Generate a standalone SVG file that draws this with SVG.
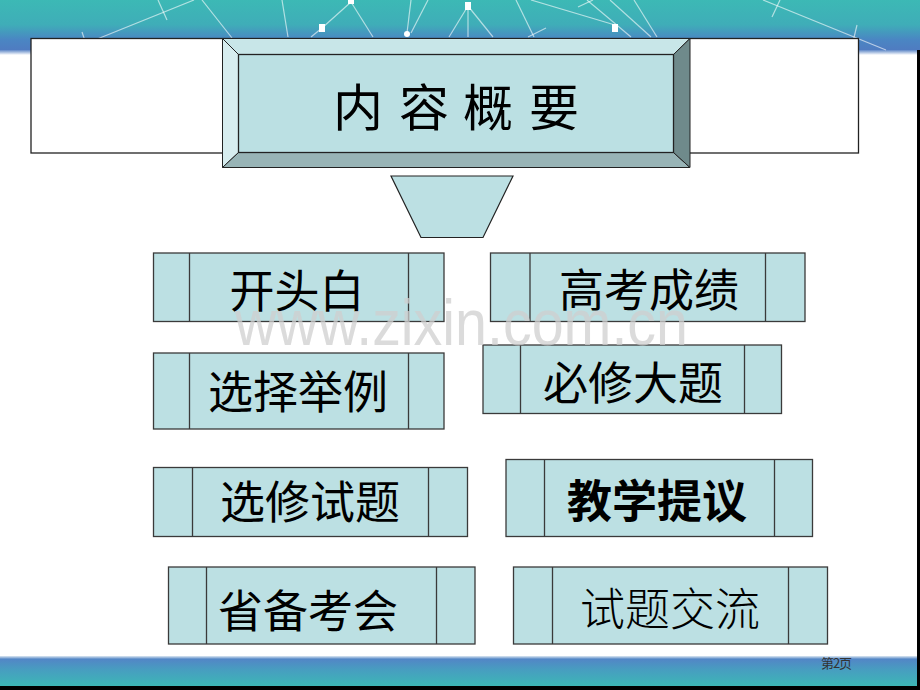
<svg xmlns="http://www.w3.org/2000/svg" width="920" height="690" viewBox="0 0 920 690">
<defs>
<linearGradient id="topg" x1="0" y1="0" x2="0" y2="1">
<stop offset="0" stop-color="#3cb9b5"/>
<stop offset="0.45" stop-color="#3fadb8"/>
<stop offset="0.72" stop-color="#4a86c3"/>
<stop offset="0.9" stop-color="#4f7cc1"/>
<stop offset="1" stop-color="#ffffff"/>
</linearGradient>
<linearGradient id="botg" x1="0" y1="0" x2="0" y2="1">
<stop offset="0" stop-color="#dde8f2"/>
<stop offset="0.1" stop-color="#5286c6"/>
<stop offset="0.45" stop-color="#479ec0"/>
<stop offset="1" stop-color="#3cb8b5"/>
</linearGradient>
<style>
.box{fill:#bce0e3;stroke:#3a3a3a;stroke-width:1.3}
.div{stroke:#3a3a3a;stroke-width:1.3}
.lbl{font-family:"Noto Sans CJK SC","Noto Sans CJK JP",sans-serif;font-size:45px;fill:#000;text-anchor:middle;dominant-baseline:central}
.ttl{font-family:"Noto Sans CJK SC","Noto Sans CJK JP",sans-serif;font-size:50px;fill:#000;text-anchor:middle;dominant-baseline:central}
.net{stroke:#ffffff;stroke-opacity:0.6;stroke-width:1.2}
.dot{fill:#ffffff}
</style>
</defs>
<rect x="0" y="0" width="920" height="690" fill="#ffffff"/>
<!-- top banner -->
<rect x="0" y="0" width="920" height="55" fill="url(#topg)"/>
<g class="net">
<line x1="194" y1="0" x2="70" y2="50"/>
<line x1="158" y1="0" x2="167" y2="20"/>
<line x1="82" y1="32" x2="88" y2="50"/>
<line x1="202" y1="0" x2="232" y2="38"/>
<line x1="282" y1="0" x2="288" y2="37"/>
<line x1="351" y1="2" x2="322" y2="28"/>
<line x1="351" y1="2" x2="373" y2="37"/>
<line x1="322" y1="28" x2="311" y2="37"/>
<line x1="411" y1="0" x2="407" y2="33"/>
<line x1="428" y1="0" x2="411" y2="33"/>
<line x1="468" y1="6" x2="449" y2="37"/>
<line x1="468" y1="6" x2="468" y2="37"/>
<line x1="468" y1="6" x2="493" y2="37"/>
<line x1="516" y1="0" x2="534" y2="37"/>
<line x1="546" y1="28" x2="528" y2="37"/>
<line x1="531" y1="0" x2="615" y2="25"/>
<line x1="578" y1="7" x2="593" y2="0"/>
<line x1="587" y1="0" x2="631" y2="37"/>
<line x1="610" y1="0" x2="651" y2="37"/>
<line x1="634" y1="0" x2="657" y2="37"/>
<line x1="763" y1="0" x2="886" y2="50"/>
<line x1="780" y1="0" x2="772" y2="17"/>
<line x1="857" y1="25" x2="851" y2="50"/>
</g>
<rect class="dot" x="348" y="0" width="6" height="4"/>
<rect class="dot" x="319" y="24" width="6" height="8"/>
<rect class="dot" x="465" y="2" width="6" height="8"/>
<rect class="dot" x="612" y="24" width="6" height="8"/>
<circle class="dot" cx="407" cy="34" r="3"/>
<!-- right edge and bottom banner -->
<rect x="0" y="656" width="920" height="31" fill="url(#botg)"/>
<rect x="917" y="50" width="3" height="640" fill="#000"/>
<rect x="0" y="686" width="920" height="4" fill="#000"/>
<text x="836" y="668" font-family="'Noto Sans CJK SC',sans-serif" font-size="13" fill="#333" text-anchor="middle" letter-spacing="-1">第2页</text>

<!-- header -->
<g id="header">
<rect x="31" y="38.5" width="827.5" height="114.5" fill="#ffffff" stroke="#222" stroke-width="1.3"/>
<polygon points="222.5,38.5 690,38.5 673.5,54.5 238.5,54.5" fill="#c8e6e8" stroke="#222" stroke-width="1"/>
<polygon points="222.5,38.5 238.5,54.5 238.5,152.5 222.5,167.5" fill="#d7edef" stroke="#222" stroke-width="1"/>
<polygon points="222.5,167.5 238.5,152.5 673.5,152.5 690,167.5" fill="#98b4b6" stroke="#222" stroke-width="1"/>
<polygon points="690,38.5 690,167.5 673.5,152.5 673.5,54.5" fill="#6f8a8b" stroke="#222" stroke-width="1"/>
<rect x="238.5" y="54.5" width="435" height="98" fill="#bbe0e3" stroke="#222" stroke-width="1.3"/>
<text class="ttl" x="358" y="104">内</text>
<text class="ttl" x="424" y="104">容</text>
<text class="ttl" x="488" y="104">概</text>
<text class="ttl" x="554" y="104">要</text>
</g>
<g id="funnel">
<polygon points="391,176 513,176 483,237.5 421,237.5" fill="#bce0e3" stroke="#222" stroke-width="1.2"/>
</g>
<g id="connectors"></g>

<g id="n1">
<rect class="box" x="153.5" y="253" width="290.5" height="68.5"/>
<line class="div" x1="189.5" y1="253" x2="189.5" y2="321.5"/>
<line class="div" x1="408.5" y1="253" x2="408.5" y2="321.5"/>
<text class="lbl" x="297" y="288">开头白</text>
</g>
<g id="n2">
<rect class="box" x="490.5" y="253" width="314.5" height="68.5"/>
<line class="div" x1="530" y1="253" x2="530" y2="321.5"/>
<line class="div" x1="765.5" y1="253" x2="765.5" y2="321.5"/>
<text class="lbl" x="649" y="287">高考成绩</text>
</g>
<g id="n3">
<rect class="box" x="153.5" y="353" width="290.5" height="76"/>
<line class="div" x1="189.5" y1="353" x2="189.5" y2="429"/>
<line class="div" x1="408.5" y1="353" x2="408.5" y2="429"/>
<text class="lbl" x="298" y="389">选择举例</text>
</g>
<g id="n4">
<rect class="box" x="483" y="345" width="298.5" height="68.5"/>
<line class="div" x1="520.5" y1="345" x2="520.5" y2="413.5"/>
<line class="div" x1="744.5" y1="345" x2="744.5" y2="413.5"/>
<text class="lbl" x="633" y="380">必修大题</text>
</g>
<g id="n5">
<rect class="box" x="153.5" y="467.5" width="314" height="69"/>
<line class="div" x1="192.5" y1="467.5" x2="192.5" y2="536.5"/>
<line class="div" x1="428.5" y1="467.5" x2="428.5" y2="536.5"/>
<text class="lbl" x="310" y="499">选修试题</text>
</g>
<g id="n6">
<rect class="box" x="506" y="459.5" width="306.5" height="77"/>
<line class="div" x1="544.5" y1="459.5" x2="544.5" y2="536.5"/>
<line class="div" x1="774.5" y1="459.5" x2="774.5" y2="536.5"/>
<text class="lbl" x="657" y="498" font-weight="bold">教学提议</text>
</g>
<g id="n7">
<rect class="box" x="168.5" y="567" width="306.5" height="77"/>
<line class="div" x1="206.5" y1="567" x2="206.5" y2="644"/>
<line class="div" x1="436.5" y1="567" x2="436.5" y2="644"/>
<text class="lbl" x="308" y="608">省备考会</text>
</g>
<g id="n8">
<rect class="box" x="513.5" y="567" width="314" height="77"/>
<line class="div" x1="552.5" y1="567" x2="552.5" y2="644"/>
<line class="div" x1="788.5" y1="567" x2="788.5" y2="644"/>
<text class="lbl" x="670" y="606" font-weight="300" fill="#2a2a2a">试题交流</text>
</g>

<text x="235" y="345" font-family="'Liberation Sans',Arial,sans-serif" font-size="64" fill="#cfcfcf" fill-opacity="0.75" textLength="453" lengthAdjust="spacingAndGlyphs">www.zixin.com.cn</text>
</svg>
